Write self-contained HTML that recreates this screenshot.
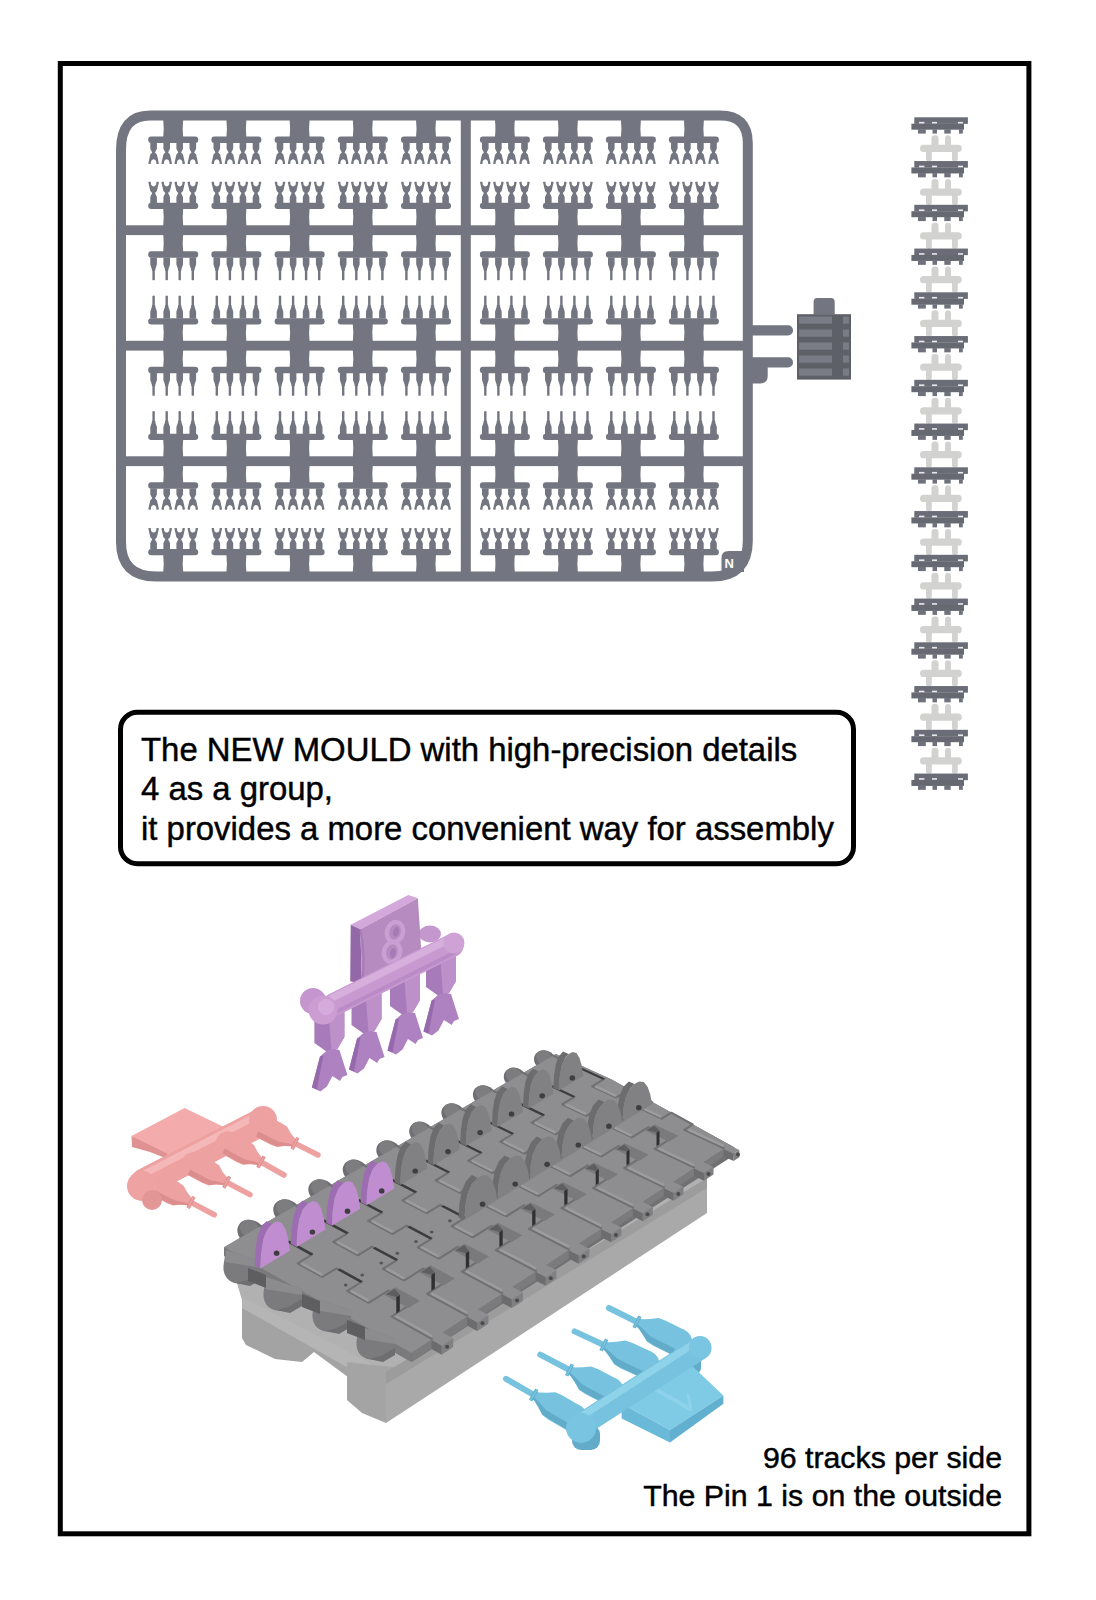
<!DOCTYPE html>
<html><head><meta charset="utf-8"><style>
html,body{margin:0;padding:0;background:#fff;}
body{width:1096px;height:1600px;position:relative;overflow:hidden;font-family:"Liberation Sans",sans-serif;}
svg{position:absolute;left:0;top:0;}
.t{position:absolute;white-space:pre;color:#000;-webkit-text-stroke:0.45px #000;}
</style></head><body>
<svg width="1096" height="1600" viewBox="0 0 1096 1600">
<defs>
<g id="py" fill="#737680"><path d="M-10,-1 L10,-1 Q9,8 10,17 L-10,17 Q-9,8 -10,-1 Z"/><rect x="-25" y="16.2" width="50" height="6.4" rx="3"/><path transform="translate(-19.6,22.4)" d="M-3.3,0 L3.3,0 L3.3,6 L1.4,9.8 L3.3,11.8 L5.3,20.6 L4.6,21.2 L2.9,21.2 L2.5,18.2 Q0,14.8 -2.5,18.2 L-2.9,21.2 L-4.6,21.2 L-5.3,20.6 L-3.3,11.8 L-1.4,9.8 L-3.3,6 Z"/><path transform="translate(-6.5,22.4)" d="M-3.3,0 L3.3,0 L3.3,6 L1.4,9.8 L3.3,11.8 L5.3,20.6 L4.6,21.2 L2.9,21.2 L2.5,18.2 Q0,14.8 -2.5,18.2 L-2.9,21.2 L-4.6,21.2 L-5.3,20.6 L-3.3,11.8 L-1.4,9.8 L-3.3,6 Z"/><path transform="translate(6.5,22.4)" d="M-3.3,0 L3.3,0 L3.3,6 L1.4,9.8 L3.3,11.8 L5.3,20.6 L4.6,21.2 L2.9,21.2 L2.5,18.2 Q0,14.8 -2.5,18.2 L-2.9,21.2 L-4.6,21.2 L-5.3,20.6 L-3.3,11.8 L-1.4,9.8 L-3.3,6 Z"/><path transform="translate(19.6,22.4)" d="M-3.3,0 L3.3,0 L3.3,6 L1.4,9.8 L3.3,11.8 L5.3,20.6 L4.6,21.2 L2.9,21.2 L2.5,18.2 Q0,14.8 -2.5,18.2 L-2.9,21.2 L-4.6,21.2 L-5.3,20.6 L-3.3,11.8 L-1.4,9.8 L-3.3,6 Z"/></g>
<g id="pp" fill="#737680"><path d="M-10,-1 L10,-1 Q9,8 10,17 L-10,17 Q-9,8 -10,-1 Z"/><rect x="-25" y="16.2" width="50" height="6.4" rx="3"/><path transform="translate(-19.6,22.4)" d="M-3.3,0 L3.3,0 L3.3,7 L1.6,12 L1.9,12.6 L1.2,13.4 L1.2,22.4 Q0,23.2 -1.2,22.4 L-1.2,13.4 L-1.9,12.6 L-1.6,12 L-3.3,7 Z"/><path transform="translate(-6.5,22.4)" d="M-3.3,0 L3.3,0 L3.3,7 L1.6,12 L1.9,12.6 L1.2,13.4 L1.2,22.4 Q0,23.2 -1.2,22.4 L-1.2,13.4 L-1.9,12.6 L-1.6,12 L-3.3,7 Z"/><path transform="translate(6.5,22.4)" d="M-3.3,0 L3.3,0 L3.3,7 L1.6,12 L1.9,12.6 L1.2,13.4 L1.2,22.4 Q0,23.2 -1.2,22.4 L-1.2,13.4 L-1.9,12.6 L-1.6,12 L-3.3,7 Z"/><path transform="translate(19.6,22.4)" d="M-3.3,0 L3.3,0 L3.3,7 L1.6,12 L1.9,12.6 L1.2,13.4 L1.2,22.4 Q0,23.2 -1.2,22.4 L-1.2,13.4 L-1.9,12.6 L-1.6,12 L-3.3,7 Z"/></g>
</defs>
<rect x="60.3" y="63.5" width="968.6" height="1470.3" fill="none" stroke="#000" stroke-width="5"/>
<g fill="none" stroke="#737680" stroke-width="10">
<path d="M150,115.5 L720,115.5 Q747.8,115.5 747.8,143 L747.8,541 Q747.8,576.5 712,576.5 L156,576.5 Q121,576.5 121,542 L121,150 Q121,115.5 150,115.5 Z"/>
</g>
<g fill="#737680">
<rect x="121" y="225.3" width="627" height="9.8"/>
<rect x="121" y="340.8" width="627" height="9.8"/>
<rect x="121" y="456.3" width="627" height="9.8"/>
<rect x="460.8" y="115" width="10" height="462"/>
<rect x="748" y="325.3" width="45" height="10.2" rx="5"/>
<rect x="748" y="357.3" width="45" height="10.2" rx="5"/>
<path d="M752,366.8 L767.7,366.8 L767.7,376 Q767.7,383.4 760,383.4 L752,383.4 Z"/>
<path d="M813.6,314.5 L813.6,302 Q813.6,298 817,298 L831,298 Q834.7,298 834.7,302 L834.7,314.5 Z"/>
</g>
<rect x="797" y="314.2" width="54" height="65.4" fill="#5e6068"/>
<rect x="799" y="316.5" width="33" height="7.2" fill="#7a7c85"/>
<rect x="843" y="316.5" width="6" height="7.2" fill="#7a7c85"/>
<rect x="799" y="329.5" width="33" height="7.2" fill="#7a7c85"/>
<rect x="843" y="329.5" width="6" height="7.2" fill="#7a7c85"/>
<rect x="799" y="342.5" width="33" height="7.2" fill="#7a7c85"/>
<rect x="843" y="342.5" width="6" height="7.2" fill="#7a7c85"/>
<rect x="799" y="355.5" width="33" height="7.2" fill="#7a7c85"/>
<rect x="843" y="355.5" width="6" height="7.2" fill="#7a7c85"/>
<rect x="799" y="368.5" width="33" height="7.2" fill="#7a7c85"/>
<rect x="843" y="368.5" width="6" height="7.2" fill="#7a7c85"/>
<path d="M721.5,572 L721.5,558 Q721.5,551 728.5,551 L744,551 L744,572 Z" fill="#737680"/>
<text x="724.5" y="568" font-family="Liberation Sans" font-weight="bold" font-size="13" fill="#fff">N</text>
<use href="#py" x="173.2" y="120.4"/>
<use href="#py" transform="translate(173.2,225.3) scale(1,-1)"/>
<use href="#py" x="236.39999999999998" y="120.4"/>
<use href="#py" transform="translate(236.39999999999998,225.3) scale(1,-1)"/>
<use href="#py" x="299.6" y="120.4"/>
<use href="#py" transform="translate(299.6,225.3) scale(1,-1)"/>
<use href="#py" x="362.8" y="120.4"/>
<use href="#py" transform="translate(362.8,225.3) scale(1,-1)"/>
<use href="#py" x="426.0" y="120.4"/>
<use href="#py" transform="translate(426.0,225.3) scale(1,-1)"/>
<use href="#py" x="504.9" y="120.4"/>
<use href="#py" transform="translate(504.9,225.3) scale(1,-1)"/>
<use href="#py" x="567.9" y="120.4"/>
<use href="#py" transform="translate(567.9,225.3) scale(1,-1)"/>
<use href="#py" x="630.9" y="120.4"/>
<use href="#py" transform="translate(630.9,225.3) scale(1,-1)"/>
<use href="#py" x="693.9" y="120.4"/>
<use href="#py" transform="translate(693.9,225.3) scale(1,-1)"/>
<use href="#pp" x="173.2" y="235.1"/>
<use href="#pp" transform="translate(173.2,340.8) scale(1,-1)"/>
<use href="#pp" x="236.39999999999998" y="235.1"/>
<use href="#pp" transform="translate(236.39999999999998,340.8) scale(1,-1)"/>
<use href="#pp" x="299.6" y="235.1"/>
<use href="#pp" transform="translate(299.6,340.8) scale(1,-1)"/>
<use href="#pp" x="362.8" y="235.1"/>
<use href="#pp" transform="translate(362.8,340.8) scale(1,-1)"/>
<use href="#pp" x="426.0" y="235.1"/>
<use href="#pp" transform="translate(426.0,340.8) scale(1,-1)"/>
<use href="#pp" x="504.9" y="235.1"/>
<use href="#pp" transform="translate(504.9,340.8) scale(1,-1)"/>
<use href="#pp" x="567.9" y="235.1"/>
<use href="#pp" transform="translate(567.9,340.8) scale(1,-1)"/>
<use href="#pp" x="630.9" y="235.1"/>
<use href="#pp" transform="translate(630.9,340.8) scale(1,-1)"/>
<use href="#pp" x="693.9" y="235.1"/>
<use href="#pp" transform="translate(693.9,340.8) scale(1,-1)"/>
<use href="#pp" x="173.2" y="350.6"/>
<use href="#pp" transform="translate(173.2,456.3) scale(1,-1)"/>
<use href="#pp" x="236.39999999999998" y="350.6"/>
<use href="#pp" transform="translate(236.39999999999998,456.3) scale(1,-1)"/>
<use href="#pp" x="299.6" y="350.6"/>
<use href="#pp" transform="translate(299.6,456.3) scale(1,-1)"/>
<use href="#pp" x="362.8" y="350.6"/>
<use href="#pp" transform="translate(362.8,456.3) scale(1,-1)"/>
<use href="#pp" x="426.0" y="350.6"/>
<use href="#pp" transform="translate(426.0,456.3) scale(1,-1)"/>
<use href="#pp" x="504.9" y="350.6"/>
<use href="#pp" transform="translate(504.9,456.3) scale(1,-1)"/>
<use href="#pp" x="567.9" y="350.6"/>
<use href="#pp" transform="translate(567.9,456.3) scale(1,-1)"/>
<use href="#pp" x="630.9" y="350.6"/>
<use href="#pp" transform="translate(630.9,456.3) scale(1,-1)"/>
<use href="#pp" x="693.9" y="350.6"/>
<use href="#pp" transform="translate(693.9,456.3) scale(1,-1)"/>
<use href="#py" x="173.2" y="466.1"/>
<use href="#py" transform="translate(173.2,571.5) scale(1,-1)"/>
<use href="#py" x="236.39999999999998" y="466.1"/>
<use href="#py" transform="translate(236.39999999999998,571.5) scale(1,-1)"/>
<use href="#py" x="299.6" y="466.1"/>
<use href="#py" transform="translate(299.6,571.5) scale(1,-1)"/>
<use href="#py" x="362.8" y="466.1"/>
<use href="#py" transform="translate(362.8,571.5) scale(1,-1)"/>
<use href="#py" x="426.0" y="466.1"/>
<use href="#py" transform="translate(426.0,571.5) scale(1,-1)"/>
<use href="#py" x="504.9" y="466.1"/>
<use href="#py" transform="translate(504.9,571.5) scale(1,-1)"/>
<use href="#py" x="567.9" y="466.1"/>
<use href="#py" transform="translate(567.9,571.5) scale(1,-1)"/>
<use href="#py" x="630.9" y="466.1"/>
<use href="#py" transform="translate(630.9,571.5) scale(1,-1)"/>
<use href="#py" x="693.9" y="466.1"/>
<use href="#py" transform="translate(693.9,571.5) scale(1,-1)"/>
<defs><g id="trk"><rect x="914.3" y="0" width="53.6" height="6.6" fill="#6a6d77"/><rect x="911.4" y="6.4" width="52.6" height="6" fill="#666972"/><rect x="918" y="12" width="7.8" height="4.3" fill="#6f727c"/><rect x="932.5" y="12" width="4.5" height="4.3" fill="#6f727c"/><rect x="944.3" y="12" width="6.4" height="4.3" fill="#6f727c"/><rect x="959" y="12" width="3.8" height="4.3" fill="#6f727c"/><rect x="919" y="4.6" width="5.4" height="1.6" fill="#e8e9ec"/><rect x="932" y="4.6" width="5" height="1.6" fill="#e8e9ec"/><rect x="958" y="4.6" width="5" height="1.6" fill="#e8e9ec"/></g><g id="pinb" fill="#d2d2d0"><rect x="920" y="27.5" width="41.8" height="7.3" rx="3.6"/><rect x="931.5" y="18" width="7" height="12" rx="3"/><rect x="945" y="18" width="6" height="12" rx="3"/><rect x="926" y="32" width="5.8" height="12" rx="2.6"/><rect x="952" y="32" width="5.8" height="12" rx="2.6"/></g></defs>
<use href="#trk" y="117.30"/>
<use href="#pinb" y="117.30"/>
<use href="#trk" y="161.05"/>
<use href="#pinb" y="161.05"/>
<use href="#trk" y="204.80"/>
<use href="#pinb" y="204.80"/>
<use href="#trk" y="248.55"/>
<use href="#pinb" y="248.55"/>
<use href="#trk" y="292.30"/>
<use href="#pinb" y="292.30"/>
<use href="#trk" y="336.05"/>
<use href="#pinb" y="336.05"/>
<use href="#trk" y="379.80"/>
<use href="#pinb" y="379.80"/>
<use href="#trk" y="423.55"/>
<use href="#pinb" y="423.55"/>
<use href="#trk" y="467.30"/>
<use href="#pinb" y="467.30"/>
<use href="#trk" y="511.05"/>
<use href="#pinb" y="511.05"/>
<use href="#trk" y="554.80"/>
<use href="#pinb" y="554.80"/>
<use href="#trk" y="598.55"/>
<use href="#pinb" y="598.55"/>
<use href="#trk" y="642.30"/>
<use href="#pinb" y="642.30"/>
<use href="#trk" y="686.05"/>
<use href="#pinb" y="686.05"/>
<use href="#trk" y="729.80"/>
<use href="#pinb" y="729.80"/>
<use href="#trk" y="773.55"/>
<rect x="120.5" y="712.3" width="733" height="151.5" rx="17" fill="none" stroke="#000" stroke-width="5"/>
<polygon points="236.0,1280.0 600.0,1080.0 707.0,1150.0 707.0,1181.0 386.0,1374.0 372.0,1366.0 242.0,1300.0" fill="#b1b1b2" />
<polygon points="242.0,1297.0 352.0,1362.0 352.0,1380.0 314.0,1352.0 302.0,1362.0 275.0,1359.0 246.0,1345.0 242.0,1338.0" fill="#a3a3a4" />
<polygon points="242.0,1297.0 372.0,1364.0 352.0,1370.0 242.0,1308.0" fill="#b5b5b6" />
<polygon points="347.0,1362.0 400.0,1368.0 386.0,1423.0 362.0,1413.0 347.0,1400.0" fill="#a4a4a5" />
<polygon points="386.0,1374.0 707.0,1180.0 707.0,1213.0 386.0,1423.0" fill="#a9a9aa" />
<polygon points="386.0,1372.0 707.0,1178.0 707.0,1188.0 386.0,1384.0" fill="#9c9c9d" />
<ellipse cx="251.3" cy="1232.4" rx="14.5" ry="12.1" transform="rotate(30 251.3 1232.4)" fill="#6f6f72"/>
<ellipse cx="247.7" cy="1230.0" rx="9.7" ry="8.5" transform="rotate(30 251.3 1232.4)" fill="#7d7d80"/>
<ellipse cx="286.9" cy="1211.7" rx="14.2" ry="11.8" transform="rotate(30 286.9 1211.7)" fill="#6f6f72"/>
<ellipse cx="283.4" cy="1209.3" rx="9.4" ry="8.3" transform="rotate(30 286.9 1211.7)" fill="#7d7d80"/>
<ellipse cx="321.7" cy="1191.4" rx="13.9" ry="11.6" transform="rotate(30 321.7 1191.4)" fill="#6f6f72"/>
<ellipse cx="318.3" cy="1189.0" rx="9.2" ry="8.1" transform="rotate(30 321.7 1191.4)" fill="#7d7d80"/>
<ellipse cx="355.8" cy="1171.5" rx="13.6" ry="11.3" transform="rotate(30 355.8 1171.5)" fill="#6f6f72"/>
<ellipse cx="352.4" cy="1169.2" rx="9.0" ry="7.9" transform="rotate(30 355.8 1171.5)" fill="#7d7d80"/>
<ellipse cx="389.1" cy="1152.0" rx="13.3" ry="11.1" transform="rotate(30 389.1 1152.0)" fill="#6f6f72"/>
<ellipse cx="385.8" cy="1149.8" rx="8.8" ry="7.7" transform="rotate(30 389.1 1152.0)" fill="#7d7d80"/>
<ellipse cx="421.7" cy="1133.0" rx="13.0" ry="10.8" transform="rotate(30 421.7 1133.0)" fill="#6f6f72"/>
<ellipse cx="418.5" cy="1130.9" rx="8.7" ry="7.6" transform="rotate(30 421.7 1133.0)" fill="#7d7d80"/>
<ellipse cx="453.6" cy="1114.4" rx="12.7" ry="10.6" transform="rotate(30 453.6 1114.4)" fill="#6f6f72"/>
<ellipse cx="450.5" cy="1112.3" rx="8.5" ry="7.4" transform="rotate(30 453.6 1114.4)" fill="#7d7d80"/>
<ellipse cx="484.9" cy="1096.2" rx="12.5" ry="10.4" transform="rotate(30 484.9 1096.2)" fill="#6f6f72"/>
<ellipse cx="481.8" cy="1094.1" rx="8.3" ry="7.3" transform="rotate(30 484.9 1096.2)" fill="#7d7d80"/>
<ellipse cx="515.5" cy="1078.3" rx="12.2" ry="10.2" transform="rotate(30 515.5 1078.3)" fill="#6f6f72"/>
<ellipse cx="512.5" cy="1076.3" rx="8.1" ry="7.1" transform="rotate(30 515.5 1078.3)" fill="#7d7d80"/>
<ellipse cx="545.5" cy="1060.8" rx="11.9" ry="10.0" transform="rotate(30 545.5 1060.8)" fill="#6f6f72"/>
<ellipse cx="542.5" cy="1058.8" rx="8.0" ry="7.0" transform="rotate(30 545.5 1060.8)" fill="#7d7d80"/>
<polygon points="224.1,1247.2 555.8,1053.9 610.5,1079.1 734.5,1147.6 734.5,1154.9 411.6,1362.1 224.1,1256.0" fill="#707072" />
<polygon points="610.5,1079.1 734.5,1147.6 734.5,1155.8 610.5,1087.1" fill="#808082" />
<polygon points="224.1,1247.2 411.6,1353.1 411.6,1362.1 224.1,1256.0" fill="#7a7a7c" />
<polygon points="224.1,1247.2 555.8,1053.9 610.5,1079.1 729.9,1145.1 411.6,1353.1" fill="#8e8e90" />
<polygon points="411.6,1353.1 729.9,1145.1 729.9,1152.3 411.6,1362.1" fill="#7b7b7d" />
<path d="M226.0,1250.0 L262.0,1262.0 L262.0,1278.0 L250.0,1285.0 L234.0,1283.0 Q221.0,1278.0 224.0,1262.0 Z" fill="#7b7b7d"/>
<polygon points="226.0,1250.0 262.0,1262.0 262.0,1268.0 225.0,1262.0" fill="#8c8c8e" />
<polygon points="236.0,1283.0 250.0,1286.0 262.0,1279.0 262.0,1272.0 248.0,1280.0" fill="#6e6e70" />
<path d="M266.0,1277.0 L302.0,1289.0 L302.0,1305.0 L290.0,1312.0 L274.0,1310.0 Q261.0,1305.0 264.0,1289.0 Z" fill="#7b7b7d"/>
<polygon points="266.0,1277.0 302.0,1289.0 302.0,1295.0 265.0,1289.0" fill="#8c8c8e" />
<polygon points="276.0,1310.0 290.0,1313.0 302.0,1306.0 302.0,1299.0 288.0,1307.0" fill="#6e6e70" />
<path d="M315.0,1298.0 L351.0,1310.0 L351.0,1326.0 L339.0,1333.0 L323.0,1331.0 Q310.0,1326.0 313.0,1310.0 Z" fill="#7b7b7d"/>
<polygon points="315.0,1298.0 351.0,1310.0 351.0,1316.0 314.0,1310.0" fill="#8c8c8e" />
<polygon points="325.0,1331.0 339.0,1334.0 351.0,1327.0 351.0,1320.0 337.0,1328.0" fill="#6e6e70" />
<path d="M359.0,1326.0 L395.0,1338.0 L395.0,1354.0 L383.0,1361.0 L367.0,1359.0 Q354.0,1354.0 357.0,1338.0 Z" fill="#7b7b7d"/>
<polygon points="359.0,1326.0 395.0,1338.0 395.0,1344.0 358.0,1338.0" fill="#8c8c8e" />
<polygon points="369.0,1359.0 383.0,1362.0 395.0,1355.0 395.0,1348.0 381.0,1356.0" fill="#6e6e70" />
<polygon points="248.0,1268.0 266.0,1275.0 266.0,1288.0 248.0,1281.0" fill="#5e5e60" />
<polygon points="302.0,1294.0 320.0,1301.0 320.0,1314.0 302.0,1307.0" fill="#5e5e60" />
<polygon points="347.0,1320.0 365.0,1327.0 365.0,1340.0 347.0,1333.0" fill="#5e5e60" />
<polygon points="426.5,1337.3 437.9,1329.8 453.2,1338.2 441.7,1345.8" fill="#8e8e90" />
<polygon points="441.7,1345.8 453.2,1338.2 453.2,1347.1 441.7,1354.7" fill="#808082" />
<polygon points="431.5,1340.1 441.7,1345.8 441.7,1354.7 431.5,1349.0" fill="#6c6c6e" />
<circle cx="447.1" cy="1346.7" r="2" fill="#4a4a4c"/>
<polygon points="462.0,1314.1 473.2,1306.8 488.4,1315.1 477.2,1322.4" fill="#8e8e90" />
<polygon points="477.2,1322.4 488.4,1315.1 488.4,1323.7 477.2,1331.1" fill="#808082" />
<polygon points="467.1,1316.9 477.2,1322.4 477.2,1331.1 467.1,1325.6" fill="#6c6c6e" />
<circle cx="482.5" cy="1323.3" r="2" fill="#4a4a4c"/>
<polygon points="496.7,1291.5 507.6,1284.4 522.8,1292.4 511.9,1299.6" fill="#8e8e90" />
<polygon points="511.9,1299.6 522.8,1292.4 522.8,1300.9 511.9,1308.1" fill="#808082" />
<polygon points="501.7,1294.2 511.9,1299.6 511.9,1308.1 501.7,1302.7" fill="#6c6c6e" />
<circle cx="517.0" cy="1300.5" r="2" fill="#4a4a4c"/>
<polygon points="530.6,1269.4 541.3,1262.5 556.4,1270.3 545.7,1277.3" fill="#8e8e90" />
<polygon points="545.7,1277.3 556.4,1270.3 556.4,1278.6 545.7,1285.7" fill="#808082" />
<polygon points="535.6,1272.1 545.7,1277.3 545.7,1285.7 535.6,1280.4" fill="#6c6c6e" />
<circle cx="550.8" cy="1278.2" r="2" fill="#4a4a4c"/>
<polygon points="563.7,1247.8 574.2,1241.0 589.3,1248.7 578.8,1255.6" fill="#8e8e90" />
<polygon points="578.8,1255.6 589.3,1248.7 589.3,1256.8 578.8,1263.7" fill="#808082" />
<polygon points="568.8,1250.4 578.8,1255.6 578.8,1263.7 568.8,1258.5" fill="#6c6c6e" />
<circle cx="583.7" cy="1256.4" r="2" fill="#4a4a4c"/>
<polygon points="596.1,1226.7 606.3,1220.1 621.4,1227.6 611.2,1234.3" fill="#8e8e90" />
<polygon points="611.2,1234.3 621.4,1227.6 621.4,1235.5 611.2,1242.3" fill="#808082" />
<polygon points="601.1,1229.2 611.2,1234.3 611.2,1242.3 601.1,1237.2" fill="#6c6c6e" />
<circle cx="616.0" cy="1235.1" r="2" fill="#4a4a4c"/>
<polygon points="627.8,1206.1 637.8,1199.6 652.8,1206.9 642.8,1213.5" fill="#8e8e90" />
<polygon points="642.8,1213.5 652.8,1206.9 652.8,1214.7 642.8,1221.3" fill="#808082" />
<polygon points="632.8,1208.6 642.8,1213.5 642.8,1221.3 632.8,1216.3" fill="#6c6c6e" />
<circle cx="647.5" cy="1214.3" r="2" fill="#4a4a4c"/>
<polygon points="658.8,1185.9 668.5,1179.6 683.5,1186.7 673.7,1193.2" fill="#8e8e90" />
<polygon points="673.7,1193.2 683.5,1186.7 683.5,1194.3 673.7,1200.8" fill="#808082" />
<polygon points="663.7,1188.3 673.7,1193.2 673.7,1200.8 663.7,1195.9" fill="#6c6c6e" />
<circle cx="678.3" cy="1193.9" r="2" fill="#4a4a4c"/>
<polygon points="689.1,1166.2 698.6,1159.9 713.5,1167.0 704.0,1173.3" fill="#8e8e90" />
<polygon points="704.0,1173.3 713.5,1167.0 713.5,1174.4 704.0,1180.7" fill="#808082" />
<polygon points="694.0,1168.5 704.0,1173.3 704.0,1180.7 694.0,1176.0" fill="#6c6c6e" />
<circle cx="708.5" cy="1174.0" r="2" fill="#4a4a4c"/>
<polygon points="718.7,1146.9 724.5,1143.0 739.4,1150.0 733.6,1153.8" fill="#8e8e90" />
<polygon points="733.6,1153.8 739.4,1150.0 739.4,1157.2 733.6,1161.1" fill="#808082" />
<polygon points="723.6,1149.2 733.6,1153.8 733.6,1161.1 723.6,1156.4" fill="#6c6c6e" />
<circle cx="738.0" cy="1154.5" r="2" fill="#4a4a4c"/>
<polyline points="260.3,1226.1 312.0,1254.7 297.7,1263.3 322.3,1277.0 336.6,1268.3 361.5,1282.0 347.2,1290.9 368.6,1302.8 388.3,1290.5 411.9,1303.5 391.5,1316.5 432.6,1339.4" fill="none" stroke="#707072" stroke-width="2.0" stroke-linejoin="round" />
<polyline points="301.4,1263.3 322.2,1274.9" fill="none" stroke="#9c9c9e" stroke-width="2.5" stroke-linejoin="round" />
<polyline points="350.9,1290.9 368.4,1300.6" fill="none" stroke="#9c9c9e" stroke-width="2.5" stroke-linejoin="round" />
<polyline points="396.0,1316.0 432.1,1336.1" fill="none" stroke="#9c9c9e" stroke-width="2.5" stroke-linejoin="round" />
<polygon points="286.7,1242.0 289.2,1240.5 313.5,1253.8 311.0,1255.4" fill="#3c3c3e" />
<polygon points="337.4,1270.0 339.9,1268.5 363.0,1281.2 360.5,1282.7" fill="#3c3c3e" />
<polygon points="383.9,1294.4 395.3,1287.2 419.9,1300.7 408.5,1308.0" fill="#7a7a7c" />
<polygon points="396.3,1297.0 399.8,1294.8 399.8,1311.1 396.3,1313.4" fill="#303032" />
<polygon points="385.9,1294.3 394.8,1288.7 399.8,1294.8 396.3,1297.0" fill="#5e5e60" />
<ellipse cx="345.7" cy="1285.0" rx="1.8" ry="1.5" fill="#555557"/>
<ellipse cx="362.2" cy="1274.9" rx="1.8" ry="1.5" fill="#555557"/>
<polyline points="295.7,1205.5 347.4,1233.4 333.3,1241.9 357.9,1255.3 371.9,1246.7 396.8,1260.2 382.8,1268.9 404.2,1280.5 423.4,1268.4 447.0,1281.1 427.1,1293.8 468.1,1316.2" fill="none" stroke="#707072" stroke-width="2.0" stroke-linejoin="round" />
<polyline points="337.0,1241.9 357.8,1253.2" fill="none" stroke="#9c9c9e" stroke-width="2.5" stroke-linejoin="round" />
<polyline points="386.5,1268.8 404.0,1278.3" fill="none" stroke="#9c9c9e" stroke-width="2.5" stroke-linejoin="round" />
<polyline points="431.5,1293.3 467.5,1312.9" fill="none" stroke="#9c9c9e" stroke-width="2.5" stroke-linejoin="round" />
<polygon points="322.1,1221.0 324.6,1219.5 348.8,1232.6 346.3,1234.1" fill="#3c3c3e" />
<polygon points="372.8,1248.4 375.2,1246.9 398.2,1259.3 395.8,1260.8" fill="#3c3c3e" />
<polygon points="419.2,1272.2 430.3,1265.2 454.8,1278.4 443.7,1285.5" fill="#7a7a7c" />
<polygon points="431.4,1274.8 434.9,1272.6 434.9,1288.6 431.4,1290.8" fill="#303032" />
<polygon points="421.2,1272.1 429.9,1266.6 434.9,1272.6 431.4,1274.8" fill="#5e5e60" />
<ellipse cx="381.3" cy="1263.1" rx="1.8" ry="1.5" fill="#555557"/>
<ellipse cx="397.3" cy="1253.2" rx="1.8" ry="1.5" fill="#555557"/>
<polyline points="330.3,1185.3 382.0,1212.7 368.2,1220.9 392.8,1234.0 406.5,1225.6 431.3,1238.8 417.6,1247.3 438.9,1258.7 457.7,1246.9 481.3,1259.3 461.8,1271.7 502.8,1293.5" fill="none" stroke="#707072" stroke-width="2.0" stroke-linejoin="round" />
<polyline points="371.8,1220.9 392.6,1231.9" fill="none" stroke="#9c9c9e" stroke-width="2.5" stroke-linejoin="round" />
<polyline points="421.3,1247.2 438.7,1256.5" fill="none" stroke="#9c9c9e" stroke-width="2.5" stroke-linejoin="round" />
<polyline points="466.2,1271.2 502.1,1290.4" fill="none" stroke="#9c9c9e" stroke-width="2.5" stroke-linejoin="round" />
<polygon points="356.8,1200.5 359.2,1199.0 383.3,1211.8 380.9,1213.3" fill="#3c3c3e" />
<polygon points="407.3,1227.3 409.7,1225.8 432.7,1237.9 430.3,1239.4" fill="#3c3c3e" />
<polygon points="453.6,1250.6 464.5,1243.7 489.0,1256.6 478.1,1263.6" fill="#7a7a7c" />
<polygon points="465.8,1253.1 469.2,1250.9 469.2,1266.5 465.8,1268.7" fill="#303032" />
<polygon points="455.6,1250.4 464.1,1245.1 469.2,1250.9 465.8,1253.1" fill="#5e5e60" />
<ellipse cx="416.0" cy="1241.6" rx="1.8" ry="1.5" fill="#555557"/>
<ellipse cx="431.7" cy="1231.9" rx="1.8" ry="1.5" fill="#555557"/>
<polyline points="364.2,1165.6 415.8,1192.3 402.3,1200.4 426.8,1213.2 440.2,1205.0 465.0,1217.9 451.6,1226.2 472.9,1237.3 491.3,1225.8 514.8,1237.9 495.8,1250.0 536.6,1271.4" fill="none" stroke="#707072" stroke-width="2.0" stroke-linejoin="round" />
<polyline points="405.9,1200.4 426.6,1211.2" fill="none" stroke="#9c9c9e" stroke-width="2.5" stroke-linejoin="round" />
<polyline points="455.3,1226.1 472.7,1235.2" fill="none" stroke="#9c9c9e" stroke-width="2.5" stroke-linejoin="round" />
<polyline points="500.1,1249.6 536.0,1268.3" fill="none" stroke="#9c9c9e" stroke-width="2.5" stroke-linejoin="round" />
<polygon points="390.6,1180.4 393.0,1179.0 417.1,1191.5 414.8,1192.9" fill="#3c3c3e" />
<polygon points="441.1,1206.6 443.5,1205.2 466.4,1217.0 464.0,1218.5" fill="#3c3c3e" />
<polygon points="487.3,1229.4 497.9,1222.7 522.4,1235.3 511.8,1242.1" fill="#7a7a7c" />
<polygon points="499.4,1231.9 502.7,1229.8 502.7,1245.0 499.4,1247.1" fill="#303032" />
<polygon points="489.3,1229.3 497.5,1224.1 502.7,1229.8 499.4,1231.9" fill="#5e5e60" />
<ellipse cx="449.9" cy="1220.7" rx="1.8" ry="1.5" fill="#555557"/>
<ellipse cx="465.3" cy="1211.2" rx="1.8" ry="1.5" fill="#555557"/>
<polyline points="397.3,1146.3 448.8,1172.4 435.7,1180.3 460.1,1192.9 473.3,1184.9 498.0,1197.4 484.9,1205.6 506.2,1216.4 524.1,1205.2 547.5,1217.0 529.0,1228.9 569.7,1249.8" fill="none" stroke="#707072" stroke-width="2.0" stroke-linejoin="round" />
<polyline points="439.2,1180.3 459.9,1190.9" fill="none" stroke="#9c9c9e" stroke-width="2.5" stroke-linejoin="round" />
<polyline points="488.5,1205.5 505.9,1214.4" fill="none" stroke="#9c9c9e" stroke-width="2.5" stroke-linejoin="round" />
<polyline points="533.2,1228.4 569.0,1246.7" fill="none" stroke="#9c9c9e" stroke-width="2.5" stroke-linejoin="round" />
<polygon points="423.7,1160.8 426.0,1159.4 450.1,1171.7 447.8,1173.0" fill="#3c3c3e" />
<polygon points="474.2,1186.4 476.5,1185.0 499.3,1196.6 497.0,1198.0" fill="#3c3c3e" />
<polygon points="520.2,1208.7 530.6,1202.2 555.0,1214.5 544.6,1221.1" fill="#7a7a7c" />
<polygon points="532.2,1211.1 535.5,1209.1 535.5,1224.0 532.2,1226.1" fill="#303032" />
<polygon points="522.2,1208.6 530.3,1203.5 535.5,1209.1 532.2,1211.1" fill="#5e5e60" />
<ellipse cx="483.1" cy="1200.2" rx="1.8" ry="1.5" fill="#555557"/>
<ellipse cx="498.1" cy="1190.9" rx="1.8" ry="1.5" fill="#555557"/>
<polyline points="429.8,1127.4 481.2,1153.0 468.3,1160.7 492.7,1173.0 505.6,1165.1 530.3,1177.4 517.5,1185.4 538.6,1196.0 556.2,1185.0 579.6,1196.6 561.4,1208.2 602.1,1228.6" fill="none" stroke="#707072" stroke-width="2.0" stroke-linejoin="round" />
<polyline points="471.8,1160.7 492.4,1171.0" fill="none" stroke="#9c9c9e" stroke-width="2.5" stroke-linejoin="round" />
<polyline points="521.0,1185.3 538.3,1194.0" fill="none" stroke="#9c9c9e" stroke-width="2.5" stroke-linejoin="round" />
<polyline points="565.6,1207.7 601.3,1225.6" fill="none" stroke="#9c9c9e" stroke-width="2.5" stroke-linejoin="round" />
<polygon points="456.2,1141.6 458.4,1140.2 482.5,1152.2 480.2,1153.6" fill="#3c3c3e" />
<polygon points="506.5,1166.7 508.7,1165.3 531.5,1176.6 529.3,1178.0" fill="#3c3c3e" />
<polygon points="552.4,1188.5 562.6,1182.1 586.9,1194.1 576.8,1200.6" fill="#7a7a7c" />
<polygon points="564.3,1190.8 567.5,1188.8 567.5,1203.4 564.3,1205.4" fill="#303032" />
<polygon points="554.3,1188.4 562.3,1183.4 567.5,1188.8 564.3,1190.8" fill="#5e5e60" />
<ellipse cx="515.6" cy="1180.1" rx="1.8" ry="1.5" fill="#555557"/>
<ellipse cx="530.3" cy="1171.0" rx="1.8" ry="1.5" fill="#555557"/>
<polyline points="461.5,1108.9 512.8,1133.9 500.3,1141.5 524.6,1153.5 537.2,1145.8 561.8,1157.9 549.3,1165.7 570.4,1176.1 587.6,1165.3 610.9,1176.6 593.1,1188.0 633.7,1207.9" fill="none" stroke="#707072" stroke-width="2.0" stroke-linejoin="round" />
<polyline points="503.7,1141.5 524.3,1151.6" fill="none" stroke="#9c9c9e" stroke-width="2.5" stroke-linejoin="round" />
<polyline points="552.8,1165.6 570.1,1174.1" fill="none" stroke="#9c9c9e" stroke-width="2.5" stroke-linejoin="round" />
<polyline points="597.3,1187.5 632.9,1205.0" fill="none" stroke="#9c9c9e" stroke-width="2.5" stroke-linejoin="round" />
<polygon points="487.9,1122.8 490.1,1121.5 514.1,1133.2 511.9,1134.5" fill="#3c3c3e" />
<polygon points="538.1,1147.3 540.3,1146.0 563.1,1157.1 560.9,1158.5" fill="#3c3c3e" />
<polygon points="583.9,1168.7 593.8,1162.4 618.1,1174.2 608.2,1180.6" fill="#7a7a7c" />
<polygon points="595.7,1171.0 598.8,1169.0 598.8,1183.3 595.7,1185.3" fill="#303032" />
<polygon points="585.8,1168.6 593.6,1163.7 598.8,1169.0 595.7,1171.0" fill="#5e5e60" />
<ellipse cx="547.3" cy="1160.5" rx="1.8" ry="1.5" fill="#555557"/>
<ellipse cx="561.7" cy="1151.6" rx="1.8" ry="1.5" fill="#555557"/>
<polyline points="492.6,1090.7 543.8,1115.3 531.5,1122.7 555.8,1134.4 568.1,1126.9 592.7,1138.7 580.4,1146.3 601.5,1156.5 618.3,1146.0 641.6,1157.1 624.2,1168.2 664.7,1187.7" fill="none" stroke="#707072" stroke-width="2.0" stroke-linejoin="round" />
<polyline points="534.9,1122.7 555.5,1132.6" fill="none" stroke="#9c9c9e" stroke-width="2.5" stroke-linejoin="round" />
<polyline points="583.9,1146.3 601.1,1154.6" fill="none" stroke="#9c9c9e" stroke-width="2.5" stroke-linejoin="round" />
<polyline points="628.3,1167.7 663.8,1184.9" fill="none" stroke="#9c9c9e" stroke-width="2.5" stroke-linejoin="round" />
<polygon points="518.9,1104.4 521.1,1103.1 545.0,1114.6 542.9,1115.9" fill="#3c3c3e" />
<polygon points="569.1,1128.4 571.2,1127.1 593.9,1138.0 591.8,1139.3" fill="#3c3c3e" />
<polygon points="614.7,1149.3 624.5,1143.2 648.7,1154.7 639.0,1160.9" fill="#7a7a7c" />
<polygon points="626.5,1151.5 629.5,1149.6 629.5,1163.6 626.5,1165.5" fill="#303032" />
<polygon points="616.6,1149.2 624.2,1144.4 629.5,1149.6 626.5,1151.5" fill="#5e5e60" />
<ellipse cx="578.4" cy="1141.3" rx="1.8" ry="1.5" fill="#555557"/>
<ellipse cx="592.5" cy="1132.6" rx="1.8" ry="1.5" fill="#555557"/>
<polyline points="523.1,1073.0 574.2,1097.1 562.1,1104.3 586.3,1115.8 598.4,1108.5 622.9,1120.0 610.9,1127.4 631.9,1137.4 648.4,1127.1 671.6,1138.0 654.6,1148.8 694.9,1167.9" fill="none" stroke="#707072" stroke-width="2.0" stroke-linejoin="round" />
<polyline points="565.5,1104.3 586.0,1114.0" fill="none" stroke="#9c9c9e" stroke-width="2.5" stroke-linejoin="round" />
<polyline points="614.3,1127.4 631.5,1135.6" fill="none" stroke="#9c9c9e" stroke-width="2.5" stroke-linejoin="round" />
<polyline points="658.6,1148.4 694.0,1165.2" fill="none" stroke="#9c9c9e" stroke-width="2.5" stroke-linejoin="round" />
<polygon points="549.4,1086.3 551.5,1085.1 575.4,1096.3 573.3,1097.6" fill="#3c3c3e" />
<polygon points="599.4,1109.9 601.5,1108.6 624.1,1119.3 622.0,1120.6" fill="#3c3c3e" />
<polygon points="644.9,1130.3 654.4,1124.4 678.6,1135.7 669.1,1141.7" fill="#7a7a7c" />
<polygon points="656.5,1132.5 659.5,1130.7 659.5,1144.3 656.5,1146.2" fill="#303032" />
<polygon points="646.8,1130.2 654.2,1125.6 659.5,1130.7 656.5,1132.5" fill="#5e5e60" />
<ellipse cx="608.8" cy="1122.5" rx="1.8" ry="1.5" fill="#555557"/>
<ellipse cx="622.6" cy="1114.0" rx="1.8" ry="1.5" fill="#555557"/>
<polyline points="552.9,1055.6 603.9,1079.2 592.1,1086.3 616.3,1097.5 628.0,1090.3 651.9,1102.0 640.8,1108.9 661.7,1118.7 671.3,1112.7 692.7,1124.5 684.3,1129.9 724.5,1148.6" fill="none" stroke="#707072" stroke-width="2.0" stroke-linejoin="round" />
<polyline points="595.4,1086.3 615.9,1095.8" fill="none" stroke="#9c9c9e" stroke-width="2.5" stroke-linejoin="round" />
<polyline points="644.1,1108.9 661.3,1116.9" fill="none" stroke="#9c9c9e" stroke-width="2.5" stroke-linejoin="round" />
<polyline points="688.3,1129.5 723.6,1145.9" fill="none" stroke="#9c9c9e" stroke-width="2.5" stroke-linejoin="round" />
<polygon points="579.1,1068.7 581.2,1067.5 605.1,1078.5 603.0,1079.7" fill="#3c3c3e" />
<ellipse cx="638.6" cy="1104.1" rx="1.8" ry="1.5" fill="#555557"/>
<!--arches-->
<polygon points="553.3,1087.9 554.1,1075.1 555.8,1064.2 558.7,1056.4 563.1,1051.4 568.6,1053.9 564.2,1058.9 561.3,1066.8 559.6,1077.7 558.8,1090.5" fill="#6c6c6e" />
<polygon points="558.8,1090.5 559.6,1077.7 561.3,1066.8 564.2,1058.9 568.6,1053.9 572.6,1052.0 576.5,1053.1 579.6,1058.3 581.8,1066.1 583.3,1075.9" fill="#818183" />
<ellipse cx="572.3" cy="1077.9" rx="2.8" ry="2.6" fill="#3e3e40"/>
<polygon points="522.9,1105.9 523.7,1092.9 525.4,1081.8 528.4,1073.7 533.0,1068.7 538.5,1071.3 534.0,1076.4 530.9,1084.4 529.2,1095.5 528.4,1108.6" fill="#6c6c6e" />
<polygon points="528.4,1108.6 529.2,1095.5 530.9,1084.4 534.0,1076.4 538.5,1071.3 542.5,1069.3 546.4,1070.4 549.7,1075.7 551.9,1083.7 553.4,1093.7" fill="#818183" />
<ellipse cx="542.2" cy="1095.8" rx="2.8" ry="2.6" fill="#3e3e40"/>
<polygon points="491.9,1124.4 492.6,1111.0 494.4,1099.7 497.5,1091.5 502.1,1086.3 507.6,1089.0 503.0,1094.2 500.0,1102.4 498.2,1113.7 497.4,1127.1" fill="#6c6c6e" />
<polygon points="497.4,1127.1 498.2,1113.7 500.0,1102.4 503.0,1094.2 507.6,1089.0 511.7,1086.9 515.8,1088.1 519.1,1093.5 521.4,1101.7 522.9,1111.9" fill="#818183" />
<ellipse cx="511.5" cy="1114.0" rx="2.8" ry="2.6" fill="#3e3e40"/>
<polygon points="460.2,1143.2 460.9,1129.6 462.8,1118.0 465.9,1109.6 470.6,1104.3 476.2,1107.0 471.5,1112.4 468.3,1120.7 466.5,1132.3 465.7,1146.0" fill="#6c6c6e" />
<polygon points="465.7,1146.0 466.5,1132.3 468.3,1120.7 471.5,1112.4 476.2,1107.0 480.3,1105.0 484.5,1106.2 487.9,1111.7 490.2,1120.0 491.7,1130.4" fill="#818183" />
<ellipse cx="480.1" cy="1132.6" rx="2.8" ry="2.6" fill="#3e3e40"/>
<polygon points="427.8,1162.5 428.6,1148.5 430.4,1136.7 433.7,1128.1 438.5,1122.7 444.0,1125.5 439.2,1130.9 436.0,1139.5 434.1,1151.3 433.3,1165.3" fill="#6c6c6e" />
<polygon points="433.3,1165.3 434.1,1151.3 436.0,1139.5 439.2,1130.9 444.0,1125.5 448.3,1123.4 452.5,1124.6 456.0,1130.2 458.3,1138.8 459.9,1149.4" fill="#818183" />
<ellipse cx="448.0" cy="1151.6" rx="2.8" ry="2.6" fill="#3e3e40"/>
<polygon points="394.6,1182.1 395.5,1167.9 397.4,1155.8 400.7,1147.1 405.6,1141.5 411.1,1144.3 406.2,1149.9 402.9,1158.7 401.0,1170.8 400.2,1185.0" fill="#6c6c6e" />
<polygon points="400.2,1185.0 401.0,1170.8 402.9,1158.7 406.2,1149.9 411.1,1144.3 415.5,1142.2 419.8,1143.4 423.3,1149.2 425.8,1157.9 427.4,1168.8" fill="#818183" />
<ellipse cx="415.2" cy="1171.0" rx="2.8" ry="2.6" fill="#3e3e40"/>
<polygon points="360.8,1202.2 361.6,1187.7 363.6,1175.3 367.0,1166.4 372.0,1160.7 377.5,1163.6 372.5,1169.3 369.2,1178.2 367.2,1190.6 366.4,1205.2" fill="#9d6cb2" />
<polygon points="366.4,1205.2 367.2,1190.6 369.2,1178.2 372.5,1169.3 377.5,1163.6 382.0,1161.4 386.4,1162.7 390.0,1168.6 392.5,1177.5 394.2,1188.6" fill="#c08ed0" />
<ellipse cx="381.7" cy="1190.9" rx="2.8" ry="2.6" fill="#3e3e40"/>
<polygon points="326.2,1222.8 327.1,1207.9 329.1,1195.3 332.5,1186.1 337.6,1180.3 343.2,1183.3 338.1,1189.1 334.6,1198.2 332.6,1210.9 331.8,1225.8" fill="#9d6cb2" />
<polygon points="331.8,1225.8 332.6,1210.9 334.6,1198.2 338.1,1189.1 343.2,1183.3 347.7,1181.0 352.3,1182.3 356.0,1188.4 358.5,1197.5 360.2,1208.8" fill="#c08ed0" />
<ellipse cx="347.5" cy="1211.2" rx="2.8" ry="2.6" fill="#3e3e40"/>
<polygon points="290.8,1243.8 291.7,1228.6 293.7,1215.6 297.2,1206.3 302.5,1200.4 308.1,1203.4 302.8,1209.3 299.3,1218.7 297.3,1231.7 296.4,1246.9" fill="#9d6cb2" />
<polygon points="296.4,1246.9 297.3,1231.7 299.3,1218.7 302.8,1209.3 308.1,1203.4 312.7,1201.1 317.4,1202.4 321.1,1208.6 323.7,1217.9 325.4,1229.5" fill="#c08ed0" />
<ellipse cx="312.4" cy="1232.0" rx="2.8" ry="2.6" fill="#3e3e40"/>
<polygon points="254.6,1265.3 255.5,1249.7 257.6,1236.5 261.2,1226.9 266.6,1220.9 272.1,1224.0 266.8,1230.1 263.2,1239.6 261.1,1252.9 260.2,1268.4" fill="#9d6cb2" />
<polygon points="260.2,1268.4 261.1,1252.9 263.2,1239.6 266.8,1230.1 272.1,1224.0 276.9,1221.6 281.6,1223.0 285.5,1229.3 288.2,1238.8 289.9,1250.7" fill="#c08ed0" />
<ellipse cx="276.6" cy="1253.2" rx="2.8" ry="2.6" fill="#3e3e40"/>
<polygon points="616.7,1119.7 617.6,1106.7 619.7,1095.5 623.3,1087.1 628.7,1081.5 634.4,1084.1 629.0,1089.8 625.4,1098.2 623.3,1109.4 622.4,1122.4" fill="#6c6c6e" />
<polygon points="622.4,1122.4 623.3,1109.4 625.4,1098.2 629.0,1089.8 634.4,1084.1 639.1,1081.6 643.8,1082.1 647.7,1086.9 650.3,1094.4 652.1,1104.0" fill="#818183" />
<ellipse cx="638.8" cy="1107.7" rx="2.8" ry="2.6" fill="#3e3e40"/>
<polygon points="586.4,1138.4 587.4,1125.2 589.5,1113.7 593.2,1105.2 598.6,1099.4 604.3,1102.1 598.9,1107.9 595.2,1116.4 593.1,1127.9 592.2,1141.2" fill="#6c6c6e" />
<polygon points="592.2,1141.2 593.1,1127.9 595.2,1116.4 598.9,1107.9 604.3,1102.1 609.2,1099.5 614.0,1100.1 617.9,1104.9 620.6,1112.6 622.4,1122.4" fill="#818183" />
<ellipse cx="608.9" cy="1126.2" rx="2.8" ry="2.6" fill="#3e3e40"/>
<polygon points="555.5,1157.6 556.4,1144.0 558.6,1132.3 562.4,1123.6 568.0,1117.7 573.7,1120.4 568.1,1126.4 564.4,1135.1 562.2,1146.8 561.2,1160.4" fill="#6c6c6e" />
<polygon points="561.2,1160.4 562.2,1146.8 564.4,1135.1 568.1,1126.4 573.7,1120.4 578.6,1117.8 583.6,1118.4 587.6,1123.3 590.3,1131.2 592.2,1141.2" fill="#818183" />
<ellipse cx="578.3" cy="1145.0" rx="2.8" ry="2.6" fill="#3e3e40"/>
<polygon points="523.9,1177.1 524.8,1163.3 527.1,1151.3 530.9,1142.4 536.6,1136.4 542.4,1139.2 536.6,1145.2 532.8,1154.2 530.6,1166.1 529.6,1180.0" fill="#6c6c6e" />
<polygon points="529.6,1180.0 530.6,1166.1 532.8,1154.2 536.6,1145.2 542.4,1139.2 547.4,1136.5 552.5,1137.1 556.5,1142.1 559.4,1150.1 561.2,1160.4" fill="#818183" />
<ellipse cx="547.1" cy="1164.3" rx="2.8" ry="2.6" fill="#3e3e40"/>
<polygon points="491.6,1197.1 492.6,1182.9 494.8,1170.7 498.7,1161.6 504.6,1155.4 510.3,1158.3 504.5,1164.5 500.6,1173.6 498.3,1185.9 497.3,1200.0" fill="#6c6c6e" />
<polygon points="497.3,1200.0 498.3,1185.9 500.6,1173.6 504.5,1164.5 510.3,1158.3 515.5,1155.6 520.7,1156.2 524.8,1161.3 527.7,1169.5 529.6,1180.0" fill="#818183" />
<ellipse cx="515.2" cy="1184.0" rx="2.8" ry="2.6" fill="#3e3e40"/>
<polygon points="458.5,1217.5 459.5,1203.1 461.9,1190.6 465.9,1181.3 471.8,1174.9 477.6,1177.9 471.6,1184.2 467.6,1193.5 465.3,1206.0 464.3,1220.5" fill="#6c6c6e" />
<polygon points="464.3,1220.5 465.3,1206.0 467.6,1193.5 471.6,1184.2 477.6,1177.9 482.9,1175.1 488.2,1175.7 492.4,1180.9 495.4,1189.4 497.3,1200.0" fill="#818183" />
<ellipse cx="482.6" cy="1204.2" rx="2.8" ry="2.6" fill="#3e3e40"/><ellipse cx="430" cy="934" rx="11" ry="8.5" fill="#c597cf"/>
<polygon points="350.7,924.7 408.3,895.0 417.9,898.2 360.3,929.2" fill="#d3a8da" />
<polygon points="350.7,924.7 360.3,929.2 362.0,984.0 350.2,981.2" fill="#9268a8" />
<polygon points="360.3,929.2 417.9,898.2 421.5,954.5 362.0,984.0" fill="#b68cc0" />
<path d="M360.3,929.2 Q366,955 362,984" fill="none" stroke="#a77bb9" stroke-width="2"/>
<ellipse cx="395" cy="932" rx="8" ry="10" fill="none" stroke="#c9a0d3" stroke-width="4.5" transform="rotate(15 395 932)"/>
<ellipse cx="392" cy="952" rx="8" ry="10" fill="none" stroke="#c9a0d3" stroke-width="4.5" transform="rotate(15 392 952)"/>
<ellipse cx="396" cy="932" rx="3" ry="5" fill="#a47bb6" transform="rotate(15 396 932)"/>
<ellipse cx="393" cy="953" rx="3" ry="5" fill="#a47bb6" transform="rotate(15 393 953)"/>
<polygon points="426.0,961.0 456.0,947.0 456.0,981.0 449.0,993.0 438.0,995.5 426.0,987.0" fill="#a77bb9" />
<polygon points="440.0,954.5 456.0,947.0 456.0,981.0 449.0,993.0 443.0,994.0" fill="#bd90c9" />
<polygon points="431.6,1000.4 438.0,995.0 446.0,993.0 451.0,994.0 459.0,1019.0 454.0,1021.0 451.6,1025.0 444.0,1020.0 438.5,1030.4 432.0,1035.4 423.5,1031.6" fill="#ae82c0" />
<polygon points="431.6,1000.4 435.0,999.5 428.5,1033.5 423.5,1031.6" fill="#9569ab" />
<polygon points="390.0,980.0 420.0,966.0 420.0,1000.0 413.0,1012.0 402.0,1014.5 390.0,1006.0" fill="#a77bb9" />
<polygon points="404.0,973.5 420.0,966.0 420.0,1000.0 413.0,1012.0 407.0,1013.0" fill="#bd90c9" />
<polygon points="395.6,1019.4 402.0,1014.0 410.0,1012.0 415.0,1013.0 423.0,1038.0 418.0,1040.0 415.6,1044.0 408.0,1039.0 402.5,1049.4 396.0,1054.4 387.5,1050.6" fill="#ae82c0" />
<polygon points="395.6,1019.4 399.0,1018.5 392.5,1052.5 387.5,1050.6" fill="#9569ab" />
<polygon points="351.5,999.0 381.5,985.0 381.5,1019.0 374.5,1031.0 363.5,1033.5 351.5,1025.0" fill="#a77bb9" />
<polygon points="365.5,992.5 381.5,985.0 381.5,1019.0 374.5,1031.0 368.5,1032.0" fill="#bd90c9" />
<polygon points="357.1,1038.4 363.5,1033.0 371.5,1031.0 376.5,1032.0 384.5,1057.0 379.5,1059.0 377.1,1063.0 369.5,1058.0 364.0,1068.4 357.5,1073.4 349.0,1069.6" fill="#ae82c0" />
<polygon points="357.1,1038.4 360.5,1037.5 354.0,1071.5 349.0,1069.6" fill="#9569ab" />
<polygon points="314.4,1017.0 344.4,1003.0 344.4,1037.0 337.4,1049.0 326.4,1051.5 314.4,1043.0" fill="#a77bb9" />
<polygon points="328.4,1010.5 344.4,1003.0 344.4,1037.0 337.4,1049.0 331.4,1050.0" fill="#bd90c9" />
<polygon points="320.0,1056.4 326.4,1051.0 334.4,1049.0 339.4,1050.0 347.4,1075.0 342.4,1077.0 340.0,1081.0 332.4,1076.0 326.9,1086.4 320.4,1091.4 311.9,1087.6" fill="#ae82c0" />
<polygon points="320.0,1056.4 323.4,1055.5 316.9,1089.5 311.9,1087.6" fill="#9569ab" />
<line x1="334.0" y1="1004.5" x2="452.0" y2="945.5" stroke="#c899d0" stroke-width="23" stroke-linecap="round"/>
<line x1="332.0" y1="998.0" x2="450.0" y2="939.0" stroke="#d7afdd" stroke-width="7" stroke-linecap="round"/>
<line x1="337.0" y1="1011.5" x2="455.0" y2="952.5" stroke="#b98cc7" stroke-width="4" stroke-linecap="round"/>
<circle cx="313.0" cy="1001.0" r="13.0" fill="#c595cf"/>
<circle cx="323.0" cy="1010.0" r="14.5" fill="#cb9dd3"/>
<circle cx="326.0" cy="1007.0" r="8.0" fill="#d5abdc"/>
<circle cx="454.0" cy="943.0" r="10.5" fill="#cfa2d6"/>
<polygon points="131.5,1136.0 184.6,1108.0 226.0,1128.0 172.0,1160.0" fill="#f3abab" />
<polygon points="131.5,1136.0 167.0,1153.5 168.0,1159.0 150.0,1152.0 132.0,1147.0" fill="#de9292" />
<line x1="145.0" y1="1182.0" x2="262.0" y2="1122.0" stroke="#eda1a1" stroke-width="28" stroke-linecap="round"/>
<line x1="146.0" y1="1173.0" x2="262.0" y2="1113.0" stroke="#f5b8b8" stroke-width="7" stroke-linecap="round"/>
<circle cx="263.0" cy="1120.0" r="14.0" fill="#eda1a1"/>
<polygon points="192.9,1198.9 190.6,1196.7 187.0,1192.1 183.6,1185.7 178.2,1182.0 163.1,1174.0 151.8,1195.1 166.9,1203.2 173.0,1205.6 180.2,1204.8 186.1,1205.2 189.1,1205.9" fill="#eda1a1" />
<circle cx="157.5" cy="1184.5" r="12.0" fill="#eda1a1"/>
<polygon points="189.2,1205.8 186.2,1205.0 180.4,1204.5 173.2,1205.1 167.2,1202.6 152.1,1194.6 154.6,1189.8 169.7,1197.9 175.6,1200.6 181.9,1201.7 187.2,1203.1 190.1,1204.2" fill="#dc8e8e" />
<line x1="214.3" y1="1214.8" x2="191.0" y2="1202.4" stroke="#eda1a1" stroke-width="5.5" stroke-linecap="round"/>
<line x1="192.6" y1="1203.2" x2="189.4" y2="1201.6" stroke="#dc8e8e" stroke-width="12.8" stroke-linecap="butt"/>
<line x1="191.8" y1="1202.8" x2="190.2" y2="1202.0" stroke="#eda1a1" stroke-width="12.8" stroke-linecap="butt"/>
<polygon points="228.6,1178.7 226.3,1176.5 222.7,1171.9 219.3,1165.5 213.9,1161.8 198.8,1153.8 187.5,1174.9 202.6,1183.0 208.7,1185.4 215.9,1184.6 221.8,1185.0 224.8,1185.7" fill="#eda1a1" />
<circle cx="193.2" cy="1164.3" r="12.0" fill="#eda1a1"/>
<polygon points="224.9,1185.6 221.9,1184.8 216.1,1184.3 208.9,1184.9 202.9,1182.4 187.8,1174.4 190.3,1169.6 205.4,1177.7 211.3,1180.4 217.6,1181.5 222.9,1182.9 225.8,1184.0" fill="#dc8e8e" />
<line x1="250.0" y1="1194.6" x2="226.7" y2="1182.2" stroke="#eda1a1" stroke-width="5.5" stroke-linecap="round"/>
<line x1="228.3" y1="1183.0" x2="225.1" y2="1181.4" stroke="#dc8e8e" stroke-width="12.8" stroke-linecap="butt"/>
<line x1="227.5" y1="1182.6" x2="225.9" y2="1181.8" stroke="#eda1a1" stroke-width="12.8" stroke-linecap="butt"/>
<polygon points="263.0,1158.5 260.7,1156.3 257.3,1151.6 254.0,1145.1 248.7,1141.3 233.8,1132.9 222.0,1153.7 236.9,1162.2 242.9,1164.7 250.2,1164.2 256.0,1164.7 259.0,1165.5" fill="#eda1a1" />
<circle cx="227.9" cy="1143.3" r="12.0" fill="#eda1a1"/>
<polygon points="259.1,1165.3 256.1,1164.5 250.4,1163.8 243.2,1164.2 237.2,1161.6 222.3,1153.2 225.0,1148.5 239.9,1156.9 245.7,1159.8 252.0,1161.0 257.2,1162.6 260.0,1163.7" fill="#dc8e8e" />
<line x1="284.0" y1="1175.0" x2="261.0" y2="1162.0" stroke="#eda1a1" stroke-width="5.5" stroke-linecap="round"/>
<line x1="262.6" y1="1162.9" x2="259.4" y2="1161.1" stroke="#dc8e8e" stroke-width="12.8" stroke-linecap="butt"/>
<line x1="261.8" y1="1162.4" x2="260.2" y2="1161.6" stroke="#eda1a1" stroke-width="12.8" stroke-linecap="butt"/>
<polygon points="296.8,1139.8 294.4,1137.7 290.8,1133.2 287.2,1126.8 281.7,1123.3 266.5,1115.6 255.7,1137.0 270.9,1144.7 277.0,1147.0 284.3,1146.1 290.1,1146.3 293.2,1147.0" fill="#eda1a1" />
<circle cx="261.1" cy="1126.3" r="12.0" fill="#eda1a1"/>
<polygon points="293.3,1146.8 290.2,1146.1 284.5,1145.7 277.3,1146.5 271.2,1144.2 255.9,1136.5 258.4,1131.6 273.6,1139.3 279.6,1141.9 285.9,1142.8 291.2,1144.2 294.1,1145.2" fill="#dc8e8e" />
<line x1="318.0" y1="1155.0" x2="295.0" y2="1143.4" stroke="#eda1a1" stroke-width="5.5" stroke-linecap="round"/>
<line x1="296.6" y1="1144.2" x2="293.4" y2="1142.6" stroke="#dc8e8e" stroke-width="12.8" stroke-linecap="butt"/>
<line x1="295.8" y1="1143.8" x2="294.2" y2="1143.0" stroke="#eda1a1" stroke-width="12.8" stroke-linecap="butt"/>
<circle cx="142.0" cy="1186.0" r="15.0" fill="#eea2a2"/>
<circle cx="152.0" cy="1200.0" r="10.0" fill="#e39696"/>
<rect x="685" y="1352" width="16" height="22" rx="6" fill="#62acc9"/>
<polygon points="535.7,1391.4 539.3,1392.6 546.7,1392.7 555.4,1392.3 562.6,1395.5 580.5,1405.9 566.4,1430.1 548.5,1419.7 542.2,1415.1 538.2,1407.2 534.5,1400.9 531.7,1398.4" fill="#77c3df" />
<circle cx="573.5" cy="1418.0" r="14.0" fill="#77c3df"/>
<polygon points="531.8,1398.2 534.6,1400.7 538.4,1406.9 542.5,1414.5 548.9,1419.1 566.8,1429.5 570.0,1424.1 552.1,1413.7 545.5,1409.4 540.3,1403.6 535.7,1398.8 532.7,1396.6" fill="#62acc9" />
<line x1="506.0" y1="1378.8" x2="533.7" y2="1394.9" stroke="#77c3df" stroke-width="6" stroke-linecap="round"/>
<line x1="532.1" y1="1394.0" x2="535.3" y2="1395.8" stroke="#62acc9" stroke-width="12.8" stroke-linecap="butt"/>
<line x1="532.9" y1="1394.4" x2="534.5" y2="1395.4" stroke="#77c3df" stroke-width="12.8" stroke-linecap="butt"/>
<polygon points="571.4,1366.5 575.0,1367.5 582.4,1367.3 591.1,1366.5 598.4,1369.3 616.7,1378.9 603.7,1403.8 585.4,1394.1 578.9,1389.8 574.6,1382.1 570.5,1376.0 567.6,1373.5" fill="#77c3df" />
<circle cx="610.2" cy="1391.3" r="14.0" fill="#77c3df"/>
<polygon points="567.7,1373.4 570.6,1375.7 574.8,1381.8 579.2,1389.2 585.7,1393.5 604.1,1403.1 607.0,1397.5 588.7,1387.9 581.9,1383.9 576.5,1378.4 571.6,1373.8 568.6,1371.8" fill="#62acc9" />
<line x1="540.3" y1="1354.7" x2="569.5" y2="1370.0" stroke="#77c3df" stroke-width="6" stroke-linecap="round"/>
<line x1="567.9" y1="1369.2" x2="571.1" y2="1370.8" stroke="#62acc9" stroke-width="12.8" stroke-linecap="butt"/>
<line x1="568.7" y1="1369.6" x2="570.3" y2="1370.4" stroke="#77c3df" stroke-width="12.8" stroke-linecap="butt"/>
<polygon points="605.5,1341.4 609.2,1342.2 616.5,1341.7 625.2,1340.5 632.6,1343.0 651.4,1351.7 639.6,1377.1 620.8,1368.4 614.1,1364.3 609.4,1356.9 605.1,1350.9 602.1,1348.6" fill="#77c3df" />
<circle cx="645.5" cy="1364.4" r="14.0" fill="#77c3df"/>
<polygon points="602.2,1348.4 605.2,1350.7 609.6,1356.5 614.4,1363.7 621.1,1367.7 639.9,1376.5 642.5,1370.8 623.8,1362.0 616.9,1358.3 611.2,1353.1 606.1,1348.7 603.0,1346.8" fill="#62acc9" />
<line x1="574.6" y1="1331.4" x2="603.8" y2="1345.0" stroke="#77c3df" stroke-width="6" stroke-linecap="round"/>
<line x1="602.2" y1="1344.2" x2="605.4" y2="1345.8" stroke="#62acc9" stroke-width="12.8" stroke-linecap="butt"/>
<line x1="603.0" y1="1344.6" x2="604.6" y2="1345.4" stroke="#77c3df" stroke-width="12.8" stroke-linecap="butt"/>
<polygon points="638.8,1318.4 642.4,1319.3 649.8,1319.0 658.5,1318.0 665.9,1320.8 684.4,1330.0 671.9,1355.0 653.4,1345.8 646.8,1341.6 642.3,1334.0 638.2,1327.9 635.2,1325.6" fill="#77c3df" />
<circle cx="678.2" cy="1342.5" r="14.0" fill="#77c3df"/>
<polygon points="635.3,1325.4 638.3,1327.7 642.5,1333.7 647.1,1341.0 653.7,1345.2 672.2,1354.4 675.1,1348.8 656.5,1339.5 649.7,1335.7 644.2,1330.3 639.2,1325.8 636.1,1323.8" fill="#62acc9" />
<line x1="608.9" y1="1308.0" x2="637.0" y2="1322.0" stroke="#77c3df" stroke-width="6" stroke-linecap="round"/>
<line x1="635.4" y1="1321.2" x2="638.6" y2="1322.8" stroke="#62acc9" stroke-width="12.8" stroke-linecap="butt"/>
<line x1="636.2" y1="1321.6" x2="637.8" y2="1322.4" stroke="#77c3df" stroke-width="12.8" stroke-linecap="butt"/>
<polygon points="621.6,1403.8 688.0,1362.0 723.4,1395.5 670.0,1430.0" fill="#7fcbe5" />
<polygon points="621.6,1403.8 670.0,1430.0 670.0,1442.4 621.6,1418.5" fill="#6bb9d8" />
<polygon points="670.0,1430.0 723.4,1395.5 723.4,1403.8 670.0,1442.4" fill="#62b0d0" />
<line x1="655.0" y1="1389.0" x2="690.0" y2="1409.0" stroke="#8dd2ea" stroke-width="4" stroke-linecap="round"/>
<line x1="688.0" y1="1395.0" x2="691.0" y2="1409.0" stroke="#8dd2ea" stroke-width="3" stroke-linecap="round"/>
<rect x="572" y="1425" width="28" height="25" rx="9" fill="#62acc9"/>
<line x1="581.0" y1="1425.0" x2="700.0" y2="1348.0" stroke="#77c3df" stroke-width="23" stroke-linecap="round"/>
<line x1="579.0" y1="1418.0" x2="698.0" y2="1341.0" stroke="#8fd3ea" stroke-width="7" stroke-linecap="round"/>
<circle cx="581.0" cy="1428.0" r="15.0" fill="#79c5e1"/>
<circle cx="700.0" cy="1347.0" r="11.0" fill="#7ac6e2"/>
</svg>
<div class="t" style="left:141px;top:730px;font-size:32.9px;line-height:39.4px">The NEW MOULD with high-precision details
4 as a group,
it provides a more convenient way for assembly</div>
<div class="t" style="right:94px;top:1439px;font-size:30.3px;line-height:37.7px;text-align:right">96 tracks per side
The Pin 1 is on the outside</div>
</body></html>
